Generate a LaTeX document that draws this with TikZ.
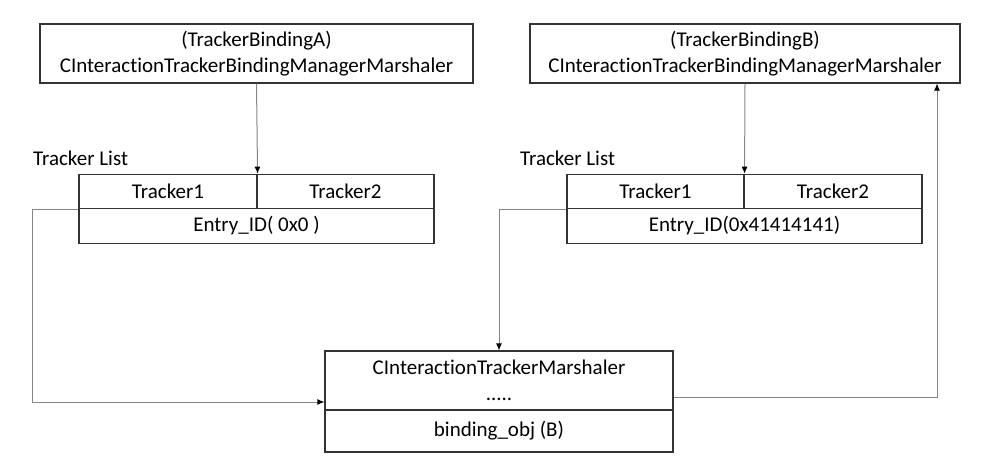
\documentclass[tikz,border=0pt]{standalone}
\usepackage{fontspec}
\setmainfont{Carlito}[Ligatures=NoCommon]
\usetikzlibrary{arrows.meta}
\definecolor{boxline}{HTML}{333333}
\definecolor{linkline}{HTML}{858585}
\begin{document}
\begin{tikzpicture}[x=1pt,y=-1pt,
  box/.style={draw=boxline,line width=1.1pt,inner sep=0pt,align=center,
    font=\fontsize{21}{26.5}\selectfont},
  cell/.style={box,minimum height=34.5pt},
  label/.style={font=\fontsize{21}{24}\selectfont,anchor=west,inner sep=0pt},
  link/.style={draw=linkline,line width=1pt,-{Latex[length=7pt,width=6pt,color=black]}}]
  \useasboundingbox (0,0) rectangle (1000,474);

  \node[box,minimum width=433pt,minimum height=59pt] (mgrA) at (256.5,53.5)
    {(TrackerBindingA)\\CInteractionTrackerBindingManagerMarshaler};
  \node[box,minimum width=430pt,minimum height=59pt] (mgrB) at (745,53.5)
    {(TrackerBindingB)\\CInteractionTrackerBindingManagerMarshaler};

  \node[label] (lstA) at (33,158) {Tracker List};
  \node[label] (lstB) at (520,158) {Tracker List};

  \node[cell,minimum width=178pt] (trkA1) at (168,191.5) {Tracker1};
  \node[cell,minimum width=177pt] (trkA2) at (345.5,191.5) {Tracker2};
  \node[cell,minimum width=355pt] (entA) at (256.5,226) {Entry\_ID( 0x0 )};

  \node[cell,minimum width=177pt] (trkB1) at (655.5,191.5) {Tracker1};
  \node[cell,minimum width=178pt] (trkB2) at (833,191.5) {Tracker2};
  \node[cell,minimum width=355pt] (entB) at (744.5,226) {Entry\_ID(0x41414141)};

  \node[box,minimum width=348pt,minimum height=59pt] (marsh) at (499,380.5)
    {CInteractionTrackerMarshaler\\.....};
  \node[box,minimum width=348pt,minimum height=42pt] (bind) at (499,431)
    {binding\_obj (B)};

  \draw[link] (mgrA.south) -- (trkA1.north east);
  \draw[link] (mgrB.south) -- (trkB1.north east);

  % back links to the marshaler
  \coordinate (lft) at (32,402);
  \coordinate (rgt) at (937,397);
  \draw[link] (trkA1.south west) -| (lft) -- (lft -| marsh.west);
  \draw[link] (trkB1.south west) -| (marsh.north);
  \draw[link] (rgt -| marsh.east) -- (rgt) -- (rgt |- mgrB.south);

\end{tikzpicture}
\end{document}
